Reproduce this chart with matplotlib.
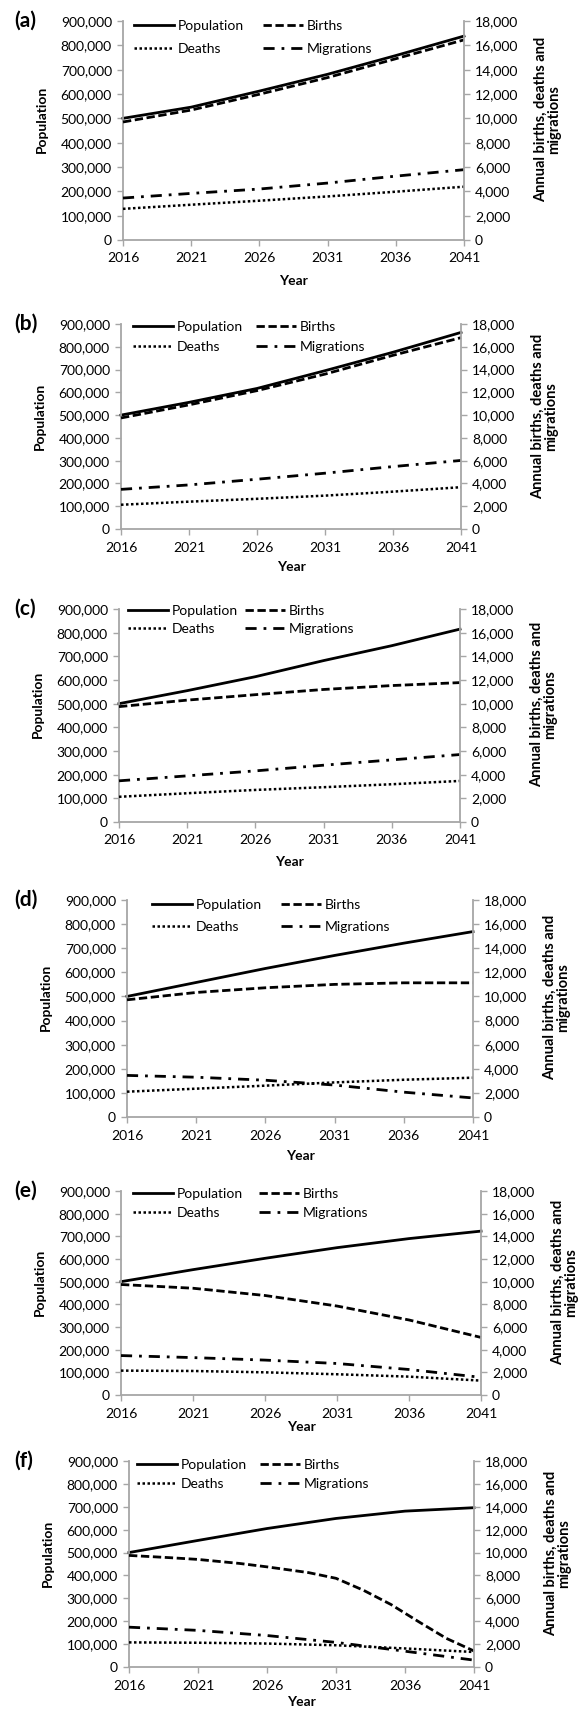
import matplotlib.pyplot as plt
from matplotlib.ticker import FuncFormatter, MultipleLocator

plt.rcParams['font.family'] = ['Lato', 'DejaVu Sans']
plt.rcParams['font.size'] = 10

# projection years
YEARS = [2016, 2021, 2026, 2031, 2036, 2041]

# (a)
pop_a = [500000, 546000, 612000, 681000, 758000, 838000]
births_a = [9700, 10680, 11980, 13350, 14900, 16450]
deaths_a = [2560, 2900, 3230, 3580, 3970, 4380]
migr_a = [3450, 3830, 4190, 4680, 5250, 5780]

# (b)
pop_b = [500000, 556000, 617000, 695000, 776000, 863000]
births_b = [9750, 10900, 12150, 13600, 15250, 16800]
deaths_b = [2130, 2400, 2650, 2930, 3280, 3670]
migr_b = [3480, 3870, 4370, 4900, 5480, 6020]

# (c)
pop_c = [500000, 555000, 614000, 682000, 745000, 815000]
births_c = [9750, 10300, 10760, 11200, 11530, 11780]
deaths_c = [2130, 2430, 2710, 2940, 3190, 3470]
migr_c = [3480, 3900, 4320, 4800, 5250, 5700]

# (d)
pop_d = [500000, 558000, 616000, 670000, 721000, 769000]
births_d = [9720, 10330, 10720, 11000, 11130, 11130]
deaths_d = [2100, 2350, 2600, 2870, 3090, 3260]
migr_d = [3450, 3300, 3050, 2650, 2060, 1580]

# (e)
pop_e = [500000, 553000, 603000, 650000, 690000, 723000]
births_e = [9750, 9420, 8780, 7850, 6620, 5080]
deaths_e = [2150, 2120, 2000, 1830, 1620, 1270]
migr_e = [3480, 3300, 3080, 2780, 2250, 1560]

# (f) - births read at extra years because of the late drop
pop_f = [500000, 553000, 605000, 649000, 681000, 696000]
births_f_years = [2016, 2019, 2021, 2024, 2026, 2029, 2031, 2033, 2035, 2037, 2039, 2041]
births_f = [9750, 9550, 9400, 9050, 8750, 8250, 7750, 6700, 5450, 3950, 2500, 1400]
deaths_f = [2150, 2120, 2050, 1900, 1620, 1310]
migr_f = [3480, 3200, 2750, 2150, 1380, 600]

W, H = 580, 1709
GREY = '#a6a6a6'
FS = 10
FS_PX = FS * 100 / 72

# pixel boxes (left, right, top, bottom) and legend placement
# legend: x offset, first-row centre below top, row pitch, column offset
PANELS = [
    ('(a)', (123, 464, 21, 240), 42, (11, 7, 21, 128),
     pop_a, (YEARS, births_a), deaths_a, migr_a),
    ('(b)', (121, 461, 324, 529), 39, (12, 5, 18, 122),
     pop_b, (YEARS, births_b), deaths_b, migr_b),
    ('(c)', (119, 460, 609, 822), 41, (9, 4, 16, 116),
     pop_c, (YEARS, births_c), deaths_c, migr_c),
    ('(d)', (127, 473, 900, 1117), 40, (25, 7, 20, 128),
     pop_d, (YEARS, births_d), deaths_d, migr_d),
    ('(e)', (121, 481, 1191, 1395), 33, (12, 5, 17, 125),
     pop_e, (YEARS, births_e), deaths_e, migr_e),
    ('(f)', (129, 474, 1461, 1667), 36, (8, 6, 17, 122),
     pop_f, (births_f_years, births_f), deaths_f, migr_f),
]

thousands = FuncFormatter(lambda v, _: f"{v:,.0f}")

fig = plt.figure(figsize=(W / 100, H / 100), dpi=100)

for letter, (l, r, t, b), year_off, leg, pop, (byears, births), deaths, migr in PANELS:
    w, h = r - l, b - t
    ax = fig.add_axes([l / W, 1 - b / H, w / W, h / H])
    ax2 = ax.twinx()

    lw = 2.0
    h_pop, = ax.plot(YEARS, pop, color='black', lw=lw, clip_on=False,
                     label='Population')
    h_births, = ax2.plot(byears, births, color='black', lw=lw, clip_on=False,
                         linestyle=(0, (3, 1.3)), label='Births')
    h_deaths, = ax2.plot(YEARS, deaths, color='black', lw=1.8, clip_on=False,
                         linestyle=(0, (1, 1)), label='Deaths')
    h_migr, = ax2.plot(YEARS, migr, color='black', lw=lw, clip_on=False,
                       linestyle=(0, (4, 2.5, 1, 2.5)), label='Migrations')

    ax.set_xlim(2016, 2041)
    ax.set_ylim(0, 900000)
    ax2.set_ylim(0, 18000)
    ax.set_xticks(range(2016, 2042, 5))
    ax.yaxis.set_major_locator(MultipleLocator(100000))
    ax2.yaxis.set_major_locator(MultipleLocator(2000))
    ax.yaxis.set_major_formatter(thousands)
    ax2.yaxis.set_major_formatter(thousands)

    for a in (ax, ax2):
        a.spines['top'].set_visible(False)
        for s in a.spines.values():
            s.set_color(GREY)
            s.set_linewidth(1.3)
        a.tick_params(direction='out', length=4, width=1, color=GREY,
                      labelsize=FS, labelcolor='black')
    ax.spines['right'].set_visible(False)
    ax2.spines['left'].set_visible(False)
    ax2.spines['bottom'].set_visible(False)
    ax.tick_params(axis='x', pad=5)
    ax.tick_params(axis='y', pad=4)
    ax2.tick_params(axis='y', pad=4)

    ax.set_ylabel('Population', fontweight='bold', fontsize=FS)
    ax.yaxis.set_label_coords(-75 / w, 0.55)
    ax2.set_ylabel('Annual births, deaths and\nmigrations', fontweight='bold',
                   fontsize=10.5, multialignment='center', linespacing=0.95)
    ax2.yaxis.set_label_coords(1 + 70 / w, 0.55)
    ax.set_xlabel('Year', fontweight='bold', fontsize=FS)
    ax.xaxis.set_label_coords(0.5, -(year_off - 7) / h)

    fig.text(14 / W, 1 - t / H, letter, fontsize=15, fontweight='bold',
             va='center', ha='left')

    xoff, row1, pitch, coloff = leg
    lab_sp = max(pitch - 10, 0) / FS_PX
    col_sp = max(coloff - 109, 0) / FS_PX
    ax2.legend([h_pop, h_deaths, h_births, h_migr],
               ['Population', 'Deaths', 'Births', 'Migrations'],
               ncol=2, loc='upper left', frameon=False,
               bbox_to_anchor=(xoff / w, 1 - (row1 - 8) / h),
               borderpad=0, borderaxespad=0, handlelength=2.9,
               handletextpad=0.25, labelspacing=lab_sp, columnspacing=col_sp,
               fontsize=FS)

fig.savefig('out.png', dpi=100)
